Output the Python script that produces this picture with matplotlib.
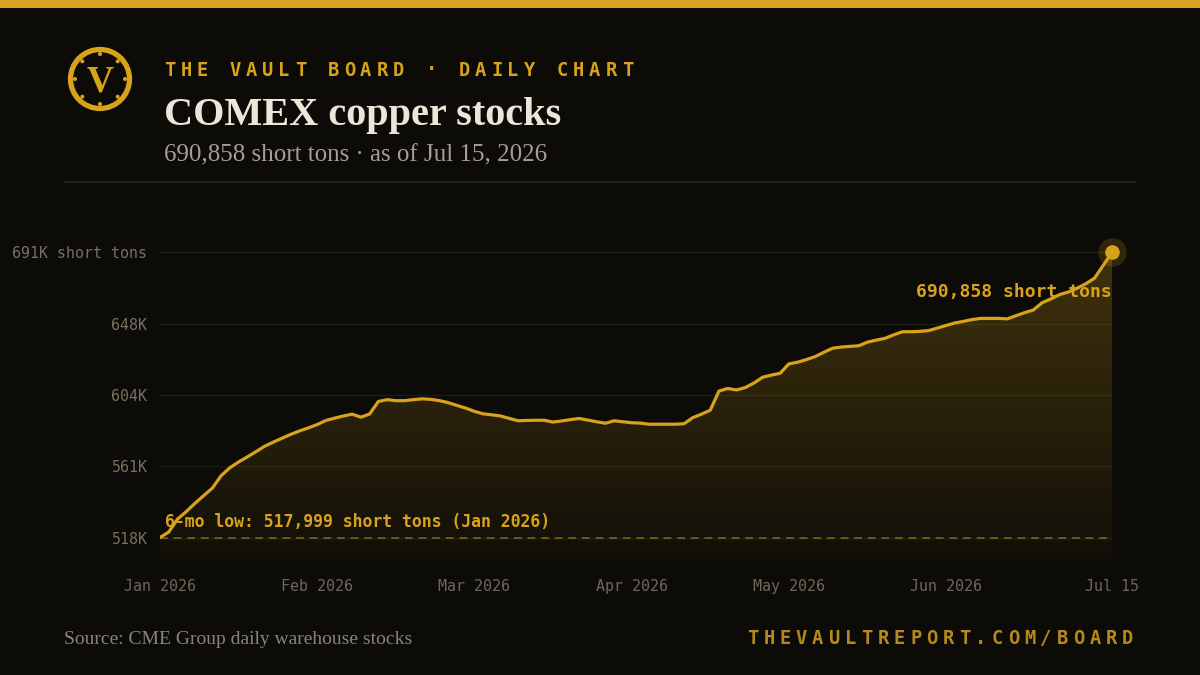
import numpy as np
import matplotlib
matplotlib.use("Agg")
import matplotlib.pyplot as plt
from matplotlib.patches import Circle, Rectangle
from matplotlib.colors import LinearSegmentedColormap

# ---------------- data ----------------
stocks = [
    517999, 521300, 529100, 533700, 538700, 543400, 548000, 555500, 560300, 563800,
    566900, 570100, 573400, 575900, 578300, 580600, 582700, 584500, 586500, 589000,
    590400, 591700, 592800, 591000, 592900, 600500, 601600, 601000, 601000, 601600,
    602100, 601800, 601000, 599800, 598100, 596500, 594500, 593000, 592400, 591700,
    590200, 588800, 589000, 589100, 589100, 588000, 588700, 589500, 590200, 589200,
    588200, 587300, 588800, 588200, 587600, 587400, 586700, 586700, 586700, 586700,
    587000, 590700, 592800, 595200, 606800, 608400, 607500, 608900, 611700, 615200,
    616500, 617600, 623300, 624300, 625900, 627700, 630300, 632800, 633500, 633900,
    634300, 636500, 637700, 638800, 640900, 642800, 642800, 643000, 643500, 645000,
    646600, 648100, 649100, 650200, 650900, 650900, 650900, 650600, 652500, 654400,
    656000, 660400, 662700, 665300, 666900, 669200, 671900, 675300, 683100, 690858,
]
x_tick_index = [0, 18, 36, 54, 72, 90, 109]
x_tick_labels = ["Jan 2026", "Feb 2026", "Mar 2026", "Apr 2026", "May 2026", "Jun 2026", "Jul 15"]
y_tick_values = [517999, 561214, 604429, 647644, 690858]
y_tick_labels = ["518K", "561K", "604K", "648K", "691K short tons"]
low_value = 517999
last_value = 690858

kicker = "THE VAULT BOARD · DAILY CHART"
title = "COMEX copper stocks"
subtitle = "690,858 short tons · as of Jul 15, 2026"
source = "Source: CME Group daily warehouse stocks"
site = "THEVAULTREPORT.COM/BOARD"
low_label = "6-mo low: 517,999 short tons (Jan 2026)"
end_label = "690,858 short tons"

# ---------------- style ----------------
BG = "#0c0b08"
GOLD = "#d9a21b"
GOLD_DARK = "#b58a1c"
CREAM = "#ece5d8"
SUB = "#a59e93"
TICK = "#77715f"
GRID = "#1d1b16"
MONO = "DejaVu Sans Mono"
SERIF = "Liberation Serif"

W, H = 1200, 675
fig = plt.figure(figsize=(12, 6.75), dpi=100, facecolor=BG)

# decoration layer in pixel coordinates
deco = fig.add_axes([0, 0, 1, 1], zorder=0)
deco.set_xlim(0, W)
deco.set_ylim(H, 0)
deco.axis("off")
deco.set_facecolor(BG)

deco.add_patch(Rectangle((0, 0), W, 8, color="#d6a21f", lw=0))
deco.plot([64, 1136], [182, 182], color="#26231d", lw=1.2)

# logo
deco.add_patch(Circle((100, 79), 29.5, fill=False, ec=GOLD, lw=3.8))
for k in range(8):
    a = np.deg2rad(90 - 45 * k)
    deco.add_patch(Circle((100 + 25 * np.cos(a), 79 - 25 * np.sin(a)), 2.0, color=GOLD, lw=0))
deco.text(100, 82, "V", family=SERIF, weight="bold", fontsize=27, color=GOLD,
          ha="center", va="center")


def spaced(x0, y, s, step, **kw):
    for i, ch in enumerate(s):
        deco.text(x0 + i * step, y, ch, ha="left", va="center", **kw)


spaced(164, 70, kicker, 16.35, family=MONO, weight="bold", fontsize=13.5, color=GOLD)
deco.text(164, 115, title, family=SERIF, weight="bold", fontsize=29, color=CREAM,
          ha="left", va="center")
deco.text(164, 155, subtitle, family=SERIF, fontsize=18, color=SUB, ha="left", va="center")
deco.text(64, 640, source, family=SERIF, fontsize=14, color="#8a8478", ha="left", va="center")
spaced(747, 638, site, 16.3, family=MONO, weight="bold", fontsize=13.5, color=GOLD_DARK)

# ---------------- main chart ----------------
px_per_val = 606.5
ylo = low_value - 22.5 * px_per_val
yhi = last_value + 12.5 * px_per_val
ax = fig.add_axes([160 / W, 1 - 560 / H, 952 / W, 320 / H], zorder=2)
ax.set_facecolor("none")
x = np.arange(len(stocks))
ax.set_xlim(0, len(stocks) - 1)
ax.set_ylim(ylo, yhi)
for s in ax.spines.values():
    s.set_visible(False)

ax.set_yticks(y_tick_values)
ax.set_yticklabels(y_tick_labels, family=MONO, fontsize=10.8, color=TICK)
ax.set_xticks(x_tick_index)
ax.set_xticklabels(x_tick_labels, family=MONO, fontsize=10.8, color="#6e6859")
ax.tick_params(axis="y", length=0, pad=9)
ax.tick_params(axis="x", length=0, pad=14)
ax.grid(axis="y", color=GRID, lw=1)
ax.grid(axis="x", visible=False)
ax.set_axisbelow(True)

# gradient fill
poly = ax.fill_between(x, stocks, ylo, color="none", lw=0)
cmap = LinearSegmentedColormap.from_list("g", [(0, (0.85, 0.64, 0.1, 0.03)),
                                               (1, (0.85, 0.64, 0.1, 0.26))])
grad = np.linspace(0, 1, 256).reshape(-1, 1)
img = ax.imshow(grad, extent=[0, len(stocks) - 1, ylo, last_value], origin="lower",
                aspect="auto", cmap=cmap, zorder=1)
img.set_clip_path(poly.get_paths()[0], transform=ax.transData)

ax.plot(x, stocks, color=GOLD, lw=2.3, zorder=3, solid_joinstyle="round")
ax.axhline(low_value, color=GOLD, alpha=0.45, lw=1.4, ls=(0, (4, 3)), zorder=2)
ax.text(0.6, low_value + 16 * px_per_val, low_label, family=MONO, weight="bold",
        fontsize=11.9, color=GOLD, ha="left", va="center", zorder=4)

ax.scatter([x[-1]], [last_value], s=420, color=GOLD, alpha=0.18, lw=0, zorder=4, clip_on=False)
ax.scatter([x[-1]], [last_value], s=110, color=GOLD, lw=0, zorder=5, clip_on=False)
ax.text(x[-1], last_value - 39.5 * px_per_val, end_label, family=MONO, weight="bold",
        fontsize=13, color=GOLD, ha="right", va="center", zorder=4)

fig.savefig("out.png", dpi=100, facecolor=BG)
